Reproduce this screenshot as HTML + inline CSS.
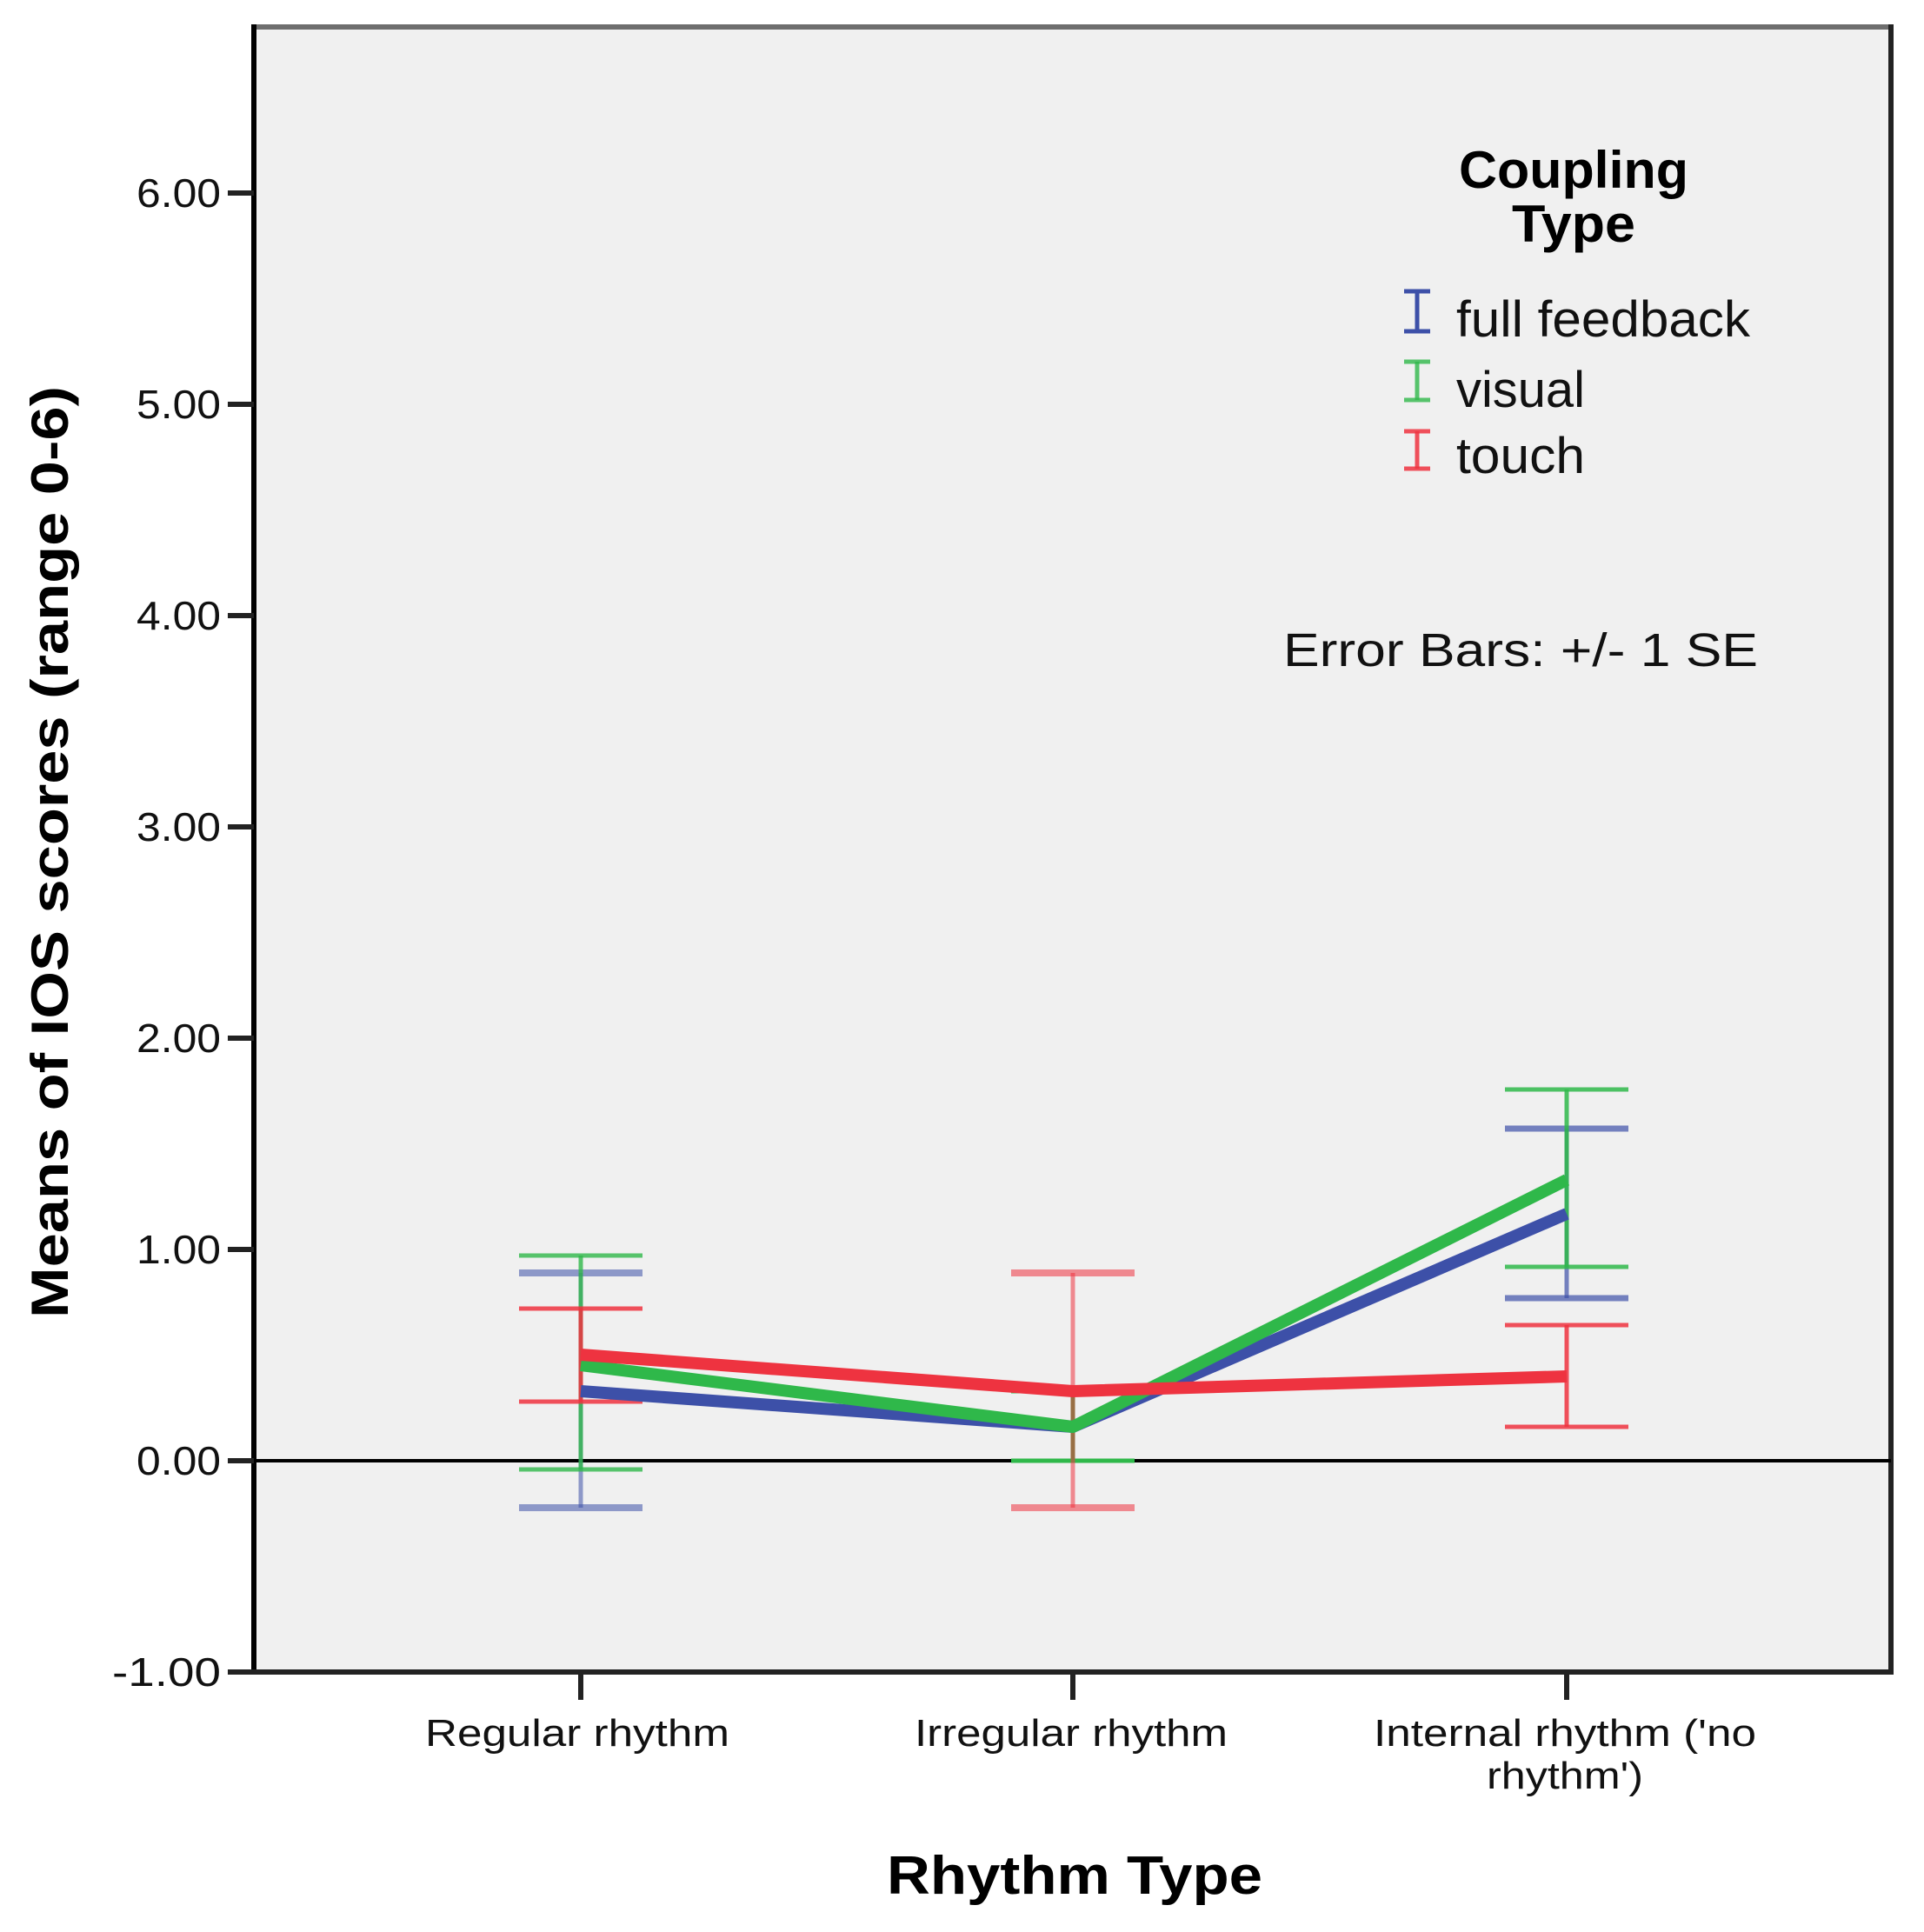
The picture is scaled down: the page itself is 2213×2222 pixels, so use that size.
<!DOCTYPE html>
<html><head><meta charset="utf-8"><style>
html,body{margin:0;padding:0;background:#fff;}
svg{display:block;font-family:"Liberation Sans",Arial,sans-serif;}
</style></head><body>
<svg width="2213" height="2222" viewBox="0 0 2213 2222" xmlns="http://www.w3.org/2000/svg">
<rect x="0" y="0" width="2213" height="2222" fill="#fff"/>
<rect x="292" y="32" width="1883" height="1891" fill="#f0f0f0"/>
<!-- frame -->
<line x1="292" y1="31" x2="2175" y2="31" stroke="#6e6e6e" stroke-width="6"/>
<line x1="2175" y1="28" x2="2175" y2="1925" stroke="#222" stroke-width="6"/>
<line x1="292" y1="28" x2="292" y2="1926" stroke="#000" stroke-width="6"/>
<line x1="289" y1="1923" x2="2178" y2="1923" stroke="#222" stroke-width="6"/>
<!-- zero line -->
<line x1="292" y1="1680" x2="2175" y2="1680" stroke="#000" stroke-width="4"/>
<!-- y ticks -->
<g stroke="#222" stroke-width="6">
<line x1="262" y1="222" x2="292" y2="222"/>
<line x1="262" y1="465" x2="292" y2="465"/>
<line x1="262" y1="708" x2="292" y2="708"/>
<line x1="262" y1="951" x2="292" y2="951"/>
<line x1="262" y1="1194" x2="292" y2="1194"/>
<line x1="262" y1="1437" x2="292" y2="1437"/>
<line x1="262" y1="1680" x2="292" y2="1680"/>
<line x1="262" y1="1923" x2="292" y2="1923"/>
<line x1="668" y1="1923" x2="668" y2="1955"/>
<line x1="1234" y1="1923" x2="1234" y2="1955"/>
<line x1="1802" y1="1923" x2="1802" y2="1955"/>
</g>
<g font-size="46" text-anchor="end" fill="#111">
<text x="254" y="238" textLength="97" lengthAdjust="spacingAndGlyphs">6.00</text>
<text x="254" y="481" textLength="97" lengthAdjust="spacingAndGlyphs">5.00</text>
<text x="254" y="724" textLength="97" lengthAdjust="spacingAndGlyphs">4.00</text>
<text x="254" y="967" textLength="97" lengthAdjust="spacingAndGlyphs">3.00</text>
<text x="254" y="1210" textLength="97" lengthAdjust="spacingAndGlyphs">2.00</text>
<text x="254" y="1453" textLength="97" lengthAdjust="spacingAndGlyphs">1.00</text>
<text x="254" y="1696" textLength="97" lengthAdjust="spacingAndGlyphs">0.00</text>
<text x="254" y="1939" textLength="125" lengthAdjust="spacingAndGlyphs">-1.00</text>
</g>
<g font-size="44" text-anchor="middle" fill="#111">
<text x="664" y="2008" textLength="350" lengthAdjust="spacingAndGlyphs">Regular rhythm</text>
<text x="1232" y="2008" textLength="360" lengthAdjust="spacingAndGlyphs">Irregular rhythm</text>
<text x="1800" y="2008" textLength="440" lengthAdjust="spacingAndGlyphs">Internal rhythm ('no</text>
<text x="1800" y="2057" textLength="180" lengthAdjust="spacingAndGlyphs">rhythm')</text>
</g>
<text x="1236" y="2178" font-size="62" font-weight="bold" text-anchor="middle" textLength="432" lengthAdjust="spacingAndGlyphs">Rhythm Type</text>
<text transform="translate(78,980) rotate(-90)" font-size="60" font-weight="bold" text-anchor="middle" textLength="1072" lengthAdjust="spacingAndGlyphs">Means of IOS scores (range 0-6)</text>

<!-- error bars -->
<g stroke-width="5" fill="none">
 <g stroke="#3d50a8" stroke-opacity="0.55"><line x1="668" y1="1734" x2="668" y2="1464"/><line x1="597" y1="1734" x2="739" y2="1734" stroke-width="8"/><line x1="597" y1="1464" x2="739" y2="1464" stroke-width="8"/></g>
 <g stroke="#2fb84a" stroke-opacity="0.8"><line x1="668" y1="1690" x2="668" y2="1444"/><line x1="597" y1="1690" x2="739" y2="1690"/><line x1="597" y1="1444" x2="739" y2="1444"/></g>
 <g stroke="#ee3340" stroke-opacity="0.85"><line x1="668" y1="1612" x2="668" y2="1505"/><line x1="597" y1="1612" x2="739" y2="1612"/><line x1="597" y1="1505" x2="739" y2="1505"/></g>
 <g stroke="#2fb84a"><line x1="1234" y1="1680" x2="1234" y2="1600"/><line x1="1163" y1="1680" x2="1305" y2="1680"/><line x1="1163" y1="1600" x2="1305" y2="1600"/></g>
 <g stroke="#ee3340" stroke-opacity="0.55"><line x1="1234" y1="1734" x2="1234" y2="1464"/><line x1="1163" y1="1734" x2="1305" y2="1734" stroke-width="8"/><line x1="1163" y1="1464" x2="1305" y2="1464" stroke-width="8"/></g>
 <g stroke="#3d50a8" stroke-opacity="0.7"><line x1="1802" y1="1493" x2="1802" y2="1298"/><line x1="1731" y1="1493" x2="1873" y2="1493" stroke-width="7"/><line x1="1731" y1="1298" x2="1873" y2="1298" stroke-width="7"/></g>
 <g stroke="#2fb84a" stroke-opacity="0.85"><line x1="1802" y1="1457" x2="1802" y2="1253"/><line x1="1731" y1="1457" x2="1873" y2="1457"/><line x1="1731" y1="1253" x2="1873" y2="1253"/></g>
 <g stroke="#ee3340" stroke-opacity="0.85"><line x1="1802" y1="1641" x2="1802" y2="1524"/><line x1="1731" y1="1641" x2="1873" y2="1641"/><line x1="1731" y1="1524" x2="1873" y2="1524"/></g>
</g>
<!-- series lines -->
<g fill="none" stroke-width="14" stroke-linejoin="round">
 <polyline stroke="#3d50a8" points="668,1600 1234,1641 1802,1396"/>
 <polyline stroke="#2fb84a" points="668,1570 1234,1641 1802,1357"/>
 <polyline stroke="#ee3340" points="668,1558 1234,1600 1802,1583"/>
</g>

<!-- legend -->
<text x="1810" y="216" font-size="60" font-weight="bold" text-anchor="middle" textLength="264" lengthAdjust="spacingAndGlyphs">Coupling</text>
<text x="1810" y="278" font-size="60" font-weight="bold" text-anchor="middle" textLength="142" lengthAdjust="spacingAndGlyphs">Type</text>
<g stroke-width="5">
 <g stroke="#3d50a8"><line x1="1630" y1="335" x2="1630" y2="381"/><line x1="1615" y1="335" x2="1645" y2="335"/><line x1="1615" y1="381" x2="1645" y2="381"/></g>
 <g stroke="#2fb84a" stroke-opacity="0.8"><line x1="1630" y1="416" x2="1630" y2="460"/><line x1="1615" y1="416" x2="1645" y2="416"/><line x1="1615" y1="460" x2="1645" y2="460"/></g>
 <g stroke="#ee3340" stroke-opacity="0.85"><line x1="1630" y1="496" x2="1630" y2="539"/><line x1="1615" y1="496" x2="1645" y2="496"/><line x1="1615" y1="539" x2="1645" y2="539"/></g>
</g>
<g font-size="58" fill="#111">
<text x="1675" y="387" textLength="338" lengthAdjust="spacingAndGlyphs">full feedback</text>
<text x="1675" y="468" textLength="148" lengthAdjust="spacingAndGlyphs">visual</text>
<text x="1675" y="544" textLength="148" lengthAdjust="spacingAndGlyphs">touch</text>
</g>
<text x="1476" y="766" font-size="54" fill="#111" textLength="546" lengthAdjust="spacingAndGlyphs">Error Bars: +/- 1 SE</text>
</svg>
</body></html>
